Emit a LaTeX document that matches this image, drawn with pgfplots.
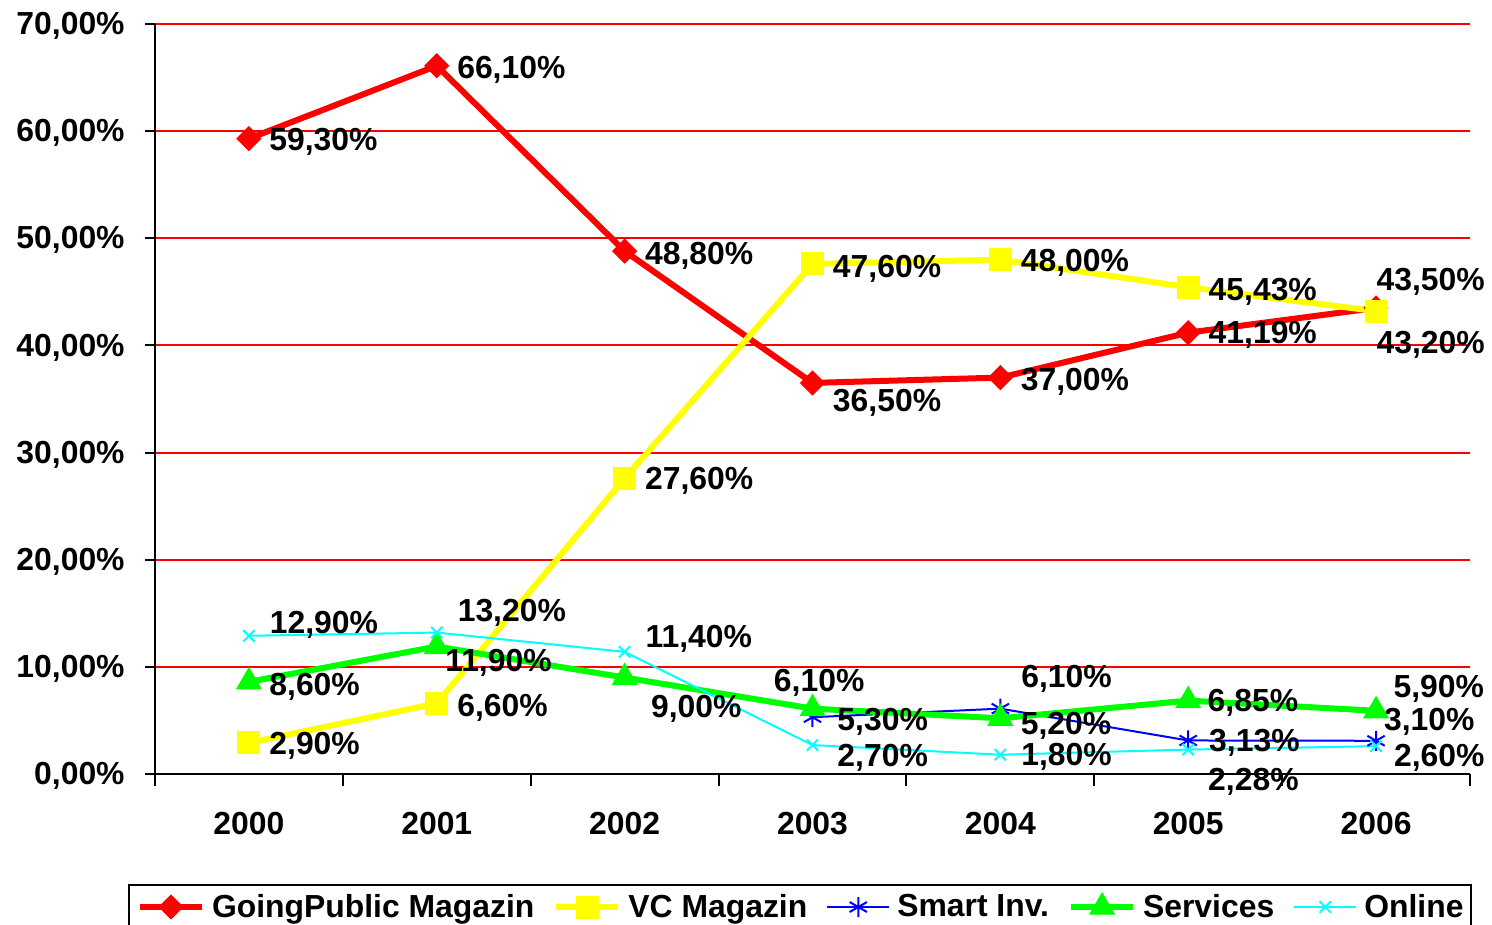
\documentclass[border=0pt]{standalone}
\usepackage{pgfplots}
\usepackage{pgfplotstable}
\pgfplotsset{compat=1.18}
\usepackage{fontspec}
\setmainfont{Liberation Sans}

\definecolor{cRed}{RGB}{255,0,0}
\definecolor{cYellow}{RGB}{255,255,0}
\definecolor{cBlue}{RGB}{0,0,255}
\definecolor{cGreen}{RGB}{0,255,0}
\definecolor{cCyan}{RGB}{0,255,255}

\pgfplotstableread{
x y lab dx dy
0 59.30 59,30 10 -0.5
1 66.10 66,10 10 -1
2 48.80 48,80 10 -1
3 36.50 36,50 10 -8.5
4 37.00 37,00 10 -0.7
5 41.19 41,19 10 0
6 43.50 43,50 0 14.5
}\gp
\pgfplotstableread{
x y lab dx dy
0 2.90 2,90 10 0
1 6.60 6,60 10 -1
2 27.60 27,60 10 0
3 47.60 47,60 10 -1
4 48.00 48,00 10 -0.5
5 45.43 45,43 10 -1
6 43.20 43,20 0 -15.5
}\vc
\pgfplotstableread{
x y lab dx dy
3 5.30 5,30 12 -1
4 6.10 6,10 10 16
5 3.13 3,13 10 0
6 3.10 3,10 3.5 10.5
}\smart
\pgfplotstableread{
x y lab dx dy
0 8.60 8,60 10 -1.5
1 11.90 11,90 4 -7
2 9.00 9,00 13 -14.5
3 6.10 6,10 -19.5 14
4 5.20 5,20 10 -2.5
5 6.85 6,85 9.5 0
6 5.90 5,90 8.5 12
}\serv
\pgfplotstableread{
x y lab dx dy
0 12.90 12,90 10 6.5
1 13.20 13,20 10 11
2 11.40 11,40 10 7.5
3 2.70 2,70 12 -5
4 1.80 1,80 10 0
5 2.28 2,28 9.5 -15
6 2.60 2,60 8.5 -4.5
}\online

\newcommand{\chartfont}{\bfseries\fontsize{16}{19}\selectfont}

\begin{document}
\begin{tikzpicture}[font=\chartfont]
\begin{axis}[
  at={(0,0)}, anchor=south west,
  width=657.5bp, height=375bp, scale only axis,
  xmin=-0.5, xmax=6.5, ymin=0, ymax=70,
  axis x line*=bottom, axis y line*=left,
  axis line style={black, line width=1bp},
  xtick={0,...,6},
  xticklabels={2000,2001,2002,2003,2004,2005,2006},
  major x tick style={draw=none},
  minor xtick={-0.5,0.5,...,6.5},
  ytick={0,10,...,70},
  yticklabel={\pgfmathprintnumber[fixed,fixed zerofill,precision=2,use comma]{\tick}\%},
  /pgf/number format/assume math mode=true,
  tick align=outside, major tick length=5bp, minor tick length=6bp,
  tick style={black, line width=1bp},
  ymajorgrids, major grid style={cRed, line width=1bp},
  tick label style={font=\chartfont},
  yticklabel style={anchor=east, inner sep=0pt, xshift=-10bp, yshift=-1bp},
  xticklabel style={anchor=north, inner sep=0pt, yshift=-14bp},
  clip=false,
  point meta=explicit symbolic,
  nodes near coords={\pgfplotspointmeta\%},
  visualization depends on={\thisrow{dx}\as\ldx},
  visualization depends on={\thisrow{dy}\as\ldy},
  every node near coord/.append style={anchor=west, inner sep=0pt, text depth=0pt,
     xshift=\ldx bp, yshift=\ldy bp, font=\chartfont, text=black},
  legend columns=5,
  legend image code/.code={\draw[mark repeat=2,mark phase=2,#1] plot coordinates {(0bp,0bp) (15.5bp,0bp) (31bp,0bp)};},
  legend style={at={(-0.0205,-0.1467)}, anchor=north west, draw=black, line width=1bp,
     font=\chartfont, inner xsep=4bp, inner ysep=4bp,
     nodes={inner sep=0pt},
     /tikz/every odd column/.append style={column sep=3.5bp},
     /tikz/every even column/.append style={column sep=9.5bp}},
]
\addplot[cRed, line width=3bp, mark=square*, mark size=4.2bp,
   mark options={rotate=45, solid, line width=0.5bp, fill=cRed}]
   table[x=x, y=y, meta=lab] {\gp};
\addlegendentry{GoingPublic Magazin}
\addplot[cYellow, line width=3bp, mark=square*, mark size=5.5bp,
   mark options={solid, line width=0.5bp, fill=cYellow}]
   table[x=x, y=y, meta=lab] {\vc};
\addlegendentry{VC Magazin}
\addplot[cBlue, line width=1bp, mark=asterisk, mark size=5bp,
   mark options={solid, line width=1bp}]
   table[x=x, y=y, meta=lab] {\smart};
\addlegendentry{Smart Inv.}
\addplot[cGreen, line width=3bp, mark=triangle*, mark size=7bp,
   mark options={solid, line width=0.5bp, fill=cGreen}]
   table[x=x, y=y, meta=lab] {\serv};
\addlegendentry{Services}
\addplot[cCyan, line width=1bp, mark=x, mark size=4bp,
   mark options={solid, line width=1bp}]
   table[x=x, y=y, meta=lab] {\online};
\addlegendentry{Online}
\end{axis}
\pgfresetboundingbox
\path (-77.5bp,-75.5bp) rectangle (668.5bp,387bp);
\end{tikzpicture}
\end{document}
